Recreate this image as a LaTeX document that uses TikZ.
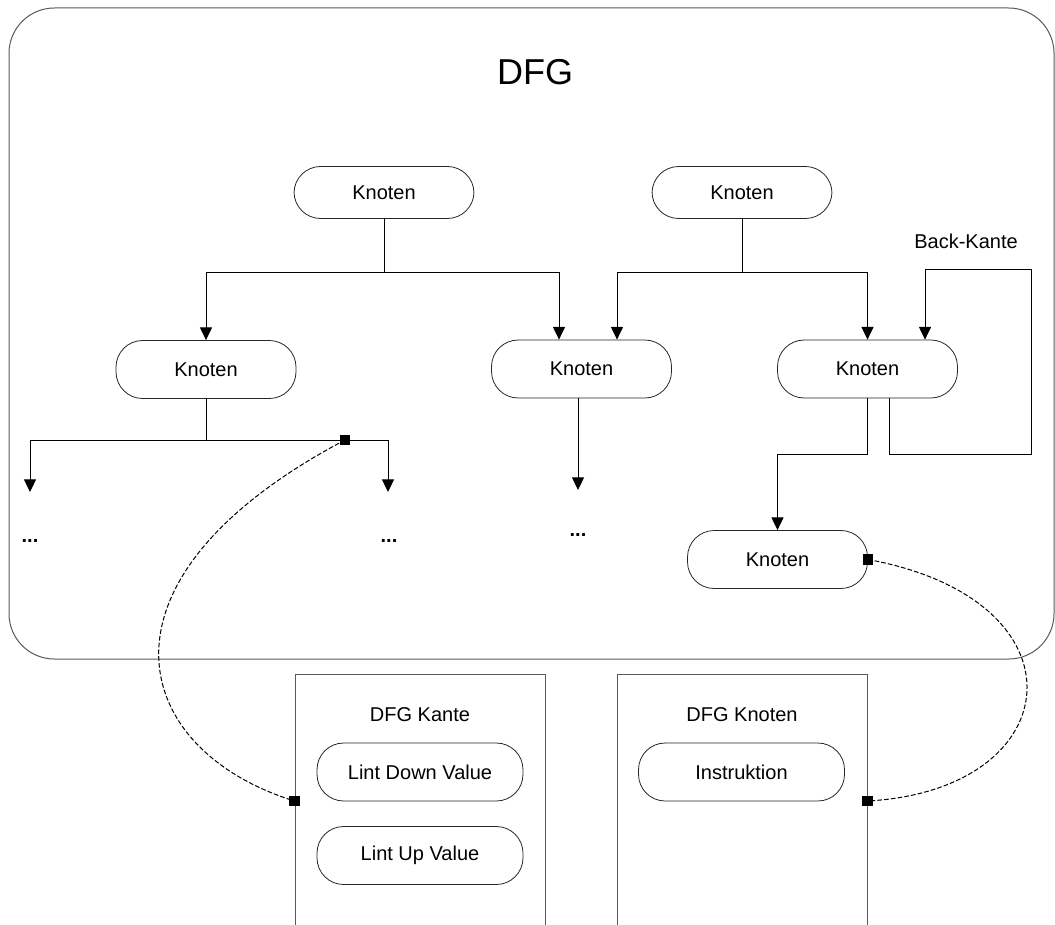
\documentclass[tikz,border=0pt]{standalone}
\usepackage{fontspec}
\setmainfont{Liberation Sans}
\usetikzlibrary{arrows.meta,calc}
\begin{document}
\begin{tikzpicture}[x=0.75pt,y=-0.75pt,
  every node/.style={font=\fontsize{15}{18}\selectfont},
  knot/.style={draw=black!85, line width=0.6pt, rounded corners=20pt,
    minimum width=135pt, minimum height=#1, inner sep=0pt},
  knot/.default=43.5pt,
  field/.style={draw=black!85, line width=0.6pt, rounded corners=20pt,
    minimum width=154.5pt, minimum height=43.5pt, inner sep=0pt},
  panel/.style={draw=black!65, line width=0.75pt, minimum width=187.5pt,
    minimum height=200pt, inner sep=0pt},
  wire/.style={draw=black, line width=0.75pt},
  arr/.style={wire, -{Triangle[width=9pt,length=9.5pt]}},
  link/.style={draw=black, line width=0.75pt, dash pattern=on 3.5pt off 1.6pt},
  sq/.style={fill=black, minimum size=8pt, inner sep=0pt},
  dots/.style={font=\fontsize{15}{18}\selectfont\bfseries, anchor=base}
]
\useasboundingbox (0,0) rectangle (1055,924);
\clip (0,0) rectangle (1055,924);

% outer DFG frame
\draw[draw=black!65, line width=0.75pt, rounded corners=34pt] (9,8) rectangle (1054,659);
\node[font=\fontsize{27}{32}\selectfont] (title) at (535,72) {DFG};

% graph nodes
\node[knot=39pt] (t1) at (384,192.5) {Knoten};
\node[knot=39pt] (t2) at (742,192.5) {Knoten};
\node[knot] (mA) at (206,369.5) {Knoten};
\node[knot] (mB) at (581.5,369) {Knoten};
\node[knot] (mC) at (867.5,369) {Knoten};
\node[knot] (bt) at (777.5,559.5) {Knoten};

% open ends
\node[dots] (e1) at (30,542) {...};
\node[dots] (e2) at (389,542) {...};
\node[dots] (e3) at (578,536) {...};
\coordinate (d1) at (30,492);
\coordinate (d2) at (388,492);
\coordinate (d3) at (578,490);

% junctions
\coordinate (j1) at (384,272);
\coordinate (j2) at (742,272);
\coordinate (jA) at (206,440);

% edges from the upper nodes
\draw[wire] (t1.south) -- (j1);
\draw[arr] (j1) -| (mA.north);
\draw[arr] (j1) -| ($(mB.north)+(-22.5,0)$);
\draw[wire] (t2.south) -- (j2);
\draw[arr] (j2) -| ($(mB.north)+(35.5,0)$);
\draw[arr] (j2) -| (mC.north);

% edges below the left node
\draw[wire] (mA.south) -- (jA);
\draw[arr] (jA) -| (d1);
\draw[arr] (jA) -| (d2);
\node[sq] (s1) at (345,440) {};

% edge below the middle node
\draw[arr] ($(mB.south)+(-3.5,0)$) -- (d3);

% edges below the right node
\draw[arr] (mC.south) |- ++(0,56) -| (bt.north);
\draw[arr] ($(mC.south)+(21.5,0)$) |- ++(142,56) |- ++(-106,-185)
  -- ($(mC.north)+(57.5,0)$);
\node (back) at (966,241) {Back-Kante};

% attribute panels
\node[panel, anchor=north] (pk) at (420,674) {};
\node[panel, anchor=north] (pn) at (742,674) {};
\node (pkt) at (420,715) {DFG Kante};
\node (pnt) at (742,715) {DFG Knoten};
\node[field] (ld) at (420,772) {Lint Down Value};
\node[field] (lu) at (420,855.5) {Lint Up Value};
\node[field] (ins) at (741.5,772) {Instruktion};

\node[sq] (s3) at (pk.west |- 0,801) {};
\node[sq] (s4) at (pn.east |- 0,801) {};
\node[sq] (s2) at (bt.east) {};

% dashed associations
\draw[link] (s1.center) .. controls (80,580) and (130,750) .. (s3.center);
\draw[link] (s2.center) .. controls (1090,600) and (1070,790) .. (s4.center);
\end{tikzpicture}
\end{document}
